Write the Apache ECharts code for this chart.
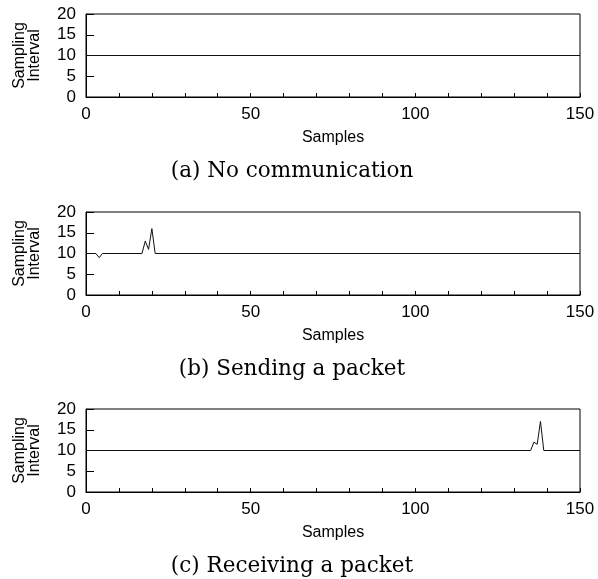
<!DOCTYPE html>
<html>
<head>
<meta charset="utf-8">
<script src="https://cdn.jsdelivr.net/npm/echarts@6/dist/echarts.min.js"></script>
<style>
  html, body { margin: 0; padding: 0; background: #fff; }
  #chart { width: 598px; height: 579px; }
</style>
</head>
<body>
<div id="chart"></div>
<script>
// Sampling interval traces for three radio situations
const captions = ['(a) No communication', '(b) Sending a packet', '(c) Receiving a packet'];

const idleSamples = [0, 150];
const idleInterval = [10, 10];

const sendSamples = [0, 3, 4, 5, 17, 18, 19, 20, 21, 150];
const sendInterval = [10, 10, 9, 10, 10, 13, 11, 16, 10, 10];

const recvSamples = [0, 135, 136, 137, 138, 139, 150];
const recvInterval = [10, 10, 12, 11.5, 17, 10, 10];

const xLabelValues = [0, 50, 100, 150];
const yLabelValues = [0, 5, 10, 15, 20];

const traces = [
  [idleSamples, idleInterval],
  [sendSamples, sendInterval],
  [recvSamples, recvInterval]
];

const SANS = '"Liberation Sans", Arial, sans-serif';
const SERIF = '"DejaVu Serif", "Liberation Serif", serif';
const panelTops = [14, 212, 409];
const panelHeight = 83;

const grids = [], xAxes = [], yAxes = [], series = [], titles = [];

traces.forEach(([xs, ys], i) => {
  const top = panelTops[i];
  grids.push({
    left: 86, right: 18, top: top, height: panelHeight,
    show: true, borderColor: '#000', borderWidth: 1,
    backgroundColor: 'transparent'
  });
  xAxes.push({
    type: 'value', gridIndex: i, min: 0, max: 150, interval: 10,
    name: 'Samples', nameLocation: 'middle', nameGap: 33,
    nameTextStyle: { fontFamily: SANS, fontSize: 16, color: '#000' },
    axisLine: { show: true, lineStyle: { color: '#000', width: 1 } },
    axisTick: { show: true, inside: true, length: 4, lineStyle: { color: '#000' } },
    axisLabel: {
      fontFamily: SANS, fontSize: 17, color: '#000', margin: 9,
      formatter: v => (xLabelValues.indexOf(v) >= 0 ? String(v) : '')
    },
    splitLine: { show: false }
  });
  yAxes.push({
    type: 'value', gridIndex: i, min: 0, max: 20, interval: 5,
    name: 'Sampling\nInterval', nameLocation: 'middle', nameRotate: 90, nameGap: 44,
    nameTextStyle: { fontFamily: SANS, fontSize: 16, lineHeight: 15, color: '#000', align: 'center' },
    axisLine: { show: true, lineStyle: { color: '#000', width: 1 } },
    axisTick: { show: true, inside: true, length: 8, lineStyle: { color: '#000' } },
    axisLabel: {
      fontFamily: SANS, fontSize: 17, color: '#000', margin: 10,
      formatter: v => (yLabelValues.indexOf(v) >= 0 ? String(v) : '')
    },
    splitLine: { show: false }
  });
  series.push({
    type: 'line', xAxisIndex: i, yAxisIndex: i,
    data: xs.map((x, k) => [x, ys[k]]),
    showSymbol: false, symbol: 'none',
    lineStyle: { color: '#111', width: 1 },
    animation: false
  });
  titles.push({
    text: captions[i], left: 287, top: top + 141, textAlign: 'center',
    textStyle: { fontFamily: SERIF, fontSize: 21.5, fontWeight: 'normal', color: '#000' }
  });
});

const chart = echarts.init(document.getElementById('chart'), null, { renderer: 'canvas' });
chart.setOption({
  animation: false,
  backgroundColor: '#fff',
  title: titles,
  grid: grids,
  xAxis: xAxes,
  yAxis: yAxes,
  series: series
});
</script>
</body>
</html>
